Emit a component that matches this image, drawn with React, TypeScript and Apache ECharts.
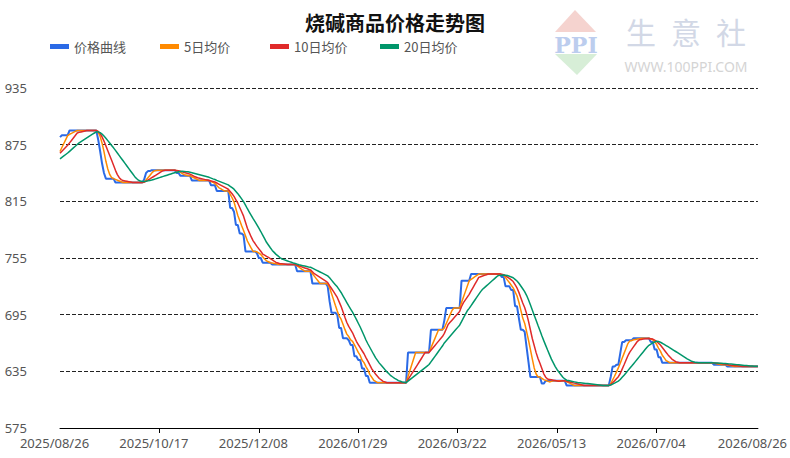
import React, { useEffect, useRef } from "react";
import * as echarts from "echarts";

// ---------- data ----------
const START_DATE = "2025-08-26";
const DAY_COUNT = 366;

// prices of the 19 days before the first shown day (needed for the moving averages)
const priorPrices = [854, 854, 854, 854, 854, 854, 854, 854, 854, 854, 864, 864, 864, 864, 864, 864, 864, 864, 864];

// price change points: [day index, price held from that day]
const priceSteps: [number, number][] = [
  [0, 883], [1, 885], [5, 890], [20, 880], [21, 868], [22, 855], [23, 845], [24, 839],
  [29, 835], [44, 838], [45, 845], [46, 847], [48, 848], [61, 845], [63, 842], [69, 837],
  [79, 832], [82, 826], [89, 808], [91, 804], [92, 790], [94, 781], [96, 779], [97, 762],
  [103, 760], [104, 755], [106, 750], [111, 748], [124, 741], [132, 728], [140, 725],
  [141, 709], [142, 697], [145, 695], [146, 681], [148, 670], [151, 668], [152, 663],
  [154, 651], [156, 647], [158, 638], [160, 630], [162, 623], [182, 655], [194, 679],
  [201, 689], [202, 702], [210, 731], [215, 738], [231, 735], [233, 725], [236, 721],
  [238, 704], [240, 691], [241, 679], [243, 677], [244, 661], [245, 645], [246, 629],
  [252, 622], [254, 625], [265, 620], [288, 629], [289, 640], [291, 642], [293, 654],
  [294, 666], [296, 668], [300, 670], [309, 666], [311, 658], [313, 650], [315, 644],
  [342, 642], [349, 640],
];

const seriesNames = ["价格曲线", "5日均价", "10日均价", "20日均价"];
const maWindows = [5, 10, 20];
const seriesColors = ["#2b6ae6", "#ff8a00", "#e02a2a", "#00966a"];
const legendLeft = [50, 160, 270, 380];

const Y_MIN = 575;
const Y_MAX = 935;
const Y_STEP = 60;
const LABEL_EVERY = 52;

// ---------- helpers ----------
function buildDates(): string[] {
  const out: string[] = [];
  const [y, m, d] = START_DATE.split("-").map(Number);
  const base = Date.UTC(y, m - 1, d);
  for (let i = 0; i < DAY_COUNT; i++) {
    const t = new Date(base + i * 86400000);
    const mm = String(t.getUTCMonth() + 1).padStart(2, "0");
    const dd = String(t.getUTCDate()).padStart(2, "0");
    out.push(`${t.getUTCFullYear()}/${mm}/${dd}`);
  }
  return out;
}

function buildPrices(): number[] {
  const out: number[] = [];
  let k = 0;
  for (let i = 0; i < DAY_COUNT; i++) {
    while (k + 1 < priceSteps.length && priceSteps[k + 1][0] <= i) k++;
    out.push(priceSteps[k][1]);
  }
  return out;
}

function movingAverage(prices: number[], n: number): number[] {
  const full = priorPrices.concat(prices);
  const off = priorPrices.length;
  const out: number[] = [];
  for (let i = 0; i < prices.length; i++) {
    let s = 0;
    for (let j = 0; j < n; j++) s += full[off + i - j];
    out.push(Math.round((s / n) * 100) / 100);
  }
  return out;
}

export default function App() {
  const ref = useRef<HTMLDivElement>(null);

  useEffect(() => {
    document.body.style.margin = "0";
    if (!ref.current) return;
    const chart = echarts.init(ref.current, undefined, { renderer: "svg" });
    const dates = buildDates();
    const prices = buildPrices();
    const allSeries = [prices, ...maWindows.map((n) => movingAverage(prices, n))];
    const lastIdx = DAY_COUNT - 1;
    const isLabelled = (i: number) => (i % LABEL_EVERY === 0 && lastIdx - i > 1) || i === lastIdx;
    const isTicked = (i: number) => i > 0 && i % LABEL_EVERY === 0 && lastIdx - i > 1;

    const option: any = {
      animation: false,
      backgroundColor: "#ffffff",
      title: {
        text: "烧碱商品价格走势图",
        left: "center",
        top: 7,
        textStyle: {
          fontSize: 20,
          fontWeight: "bold",
          color: "#111",
          fontFamily: "Noto Sans CJK SC",
        },
      },
      legend: seriesNames.map((name, i) => ({
        data: [name],
        left: legendLeft[i],
        top: 40,
        padding: 0,
        itemWidth: 19,
        itemHeight: 5,
        icon: "rect",
        textStyle: { color: "#555", fontSize: 13, fontFamily: "Noto Sans CJK SC" },
      })),
      grid: { left: 60, right: 30, top: 88, bottom: 30 },
      xAxis: {
        type: "category",
        boundaryGap: false,
        data: dates,
        axisLine: { lineStyle: { color: "#000", width: 1 } },
        axisTick: {
          show: true,
          length: 5,
          lineStyle: { color: "#000" },
          interval: isTicked,
        },
        axisLabel: {
          interval: isLabelled,
          color: "#555",
          fontSize: 13,
          margin: 8,
          padding: [0, 11, 0, 0],
          fontFamily: "Noto Sans",
        },
        splitLine: { show: false },
      },
      yAxis: {
        type: "value",
        min: Y_MIN,
        max: Y_MAX,
        interval: Y_STEP,
        axisLine: { show: false },
        axisTick: { show: false },
        axisLabel: {
          color: "#555",
          fontSize: 13,
          margin: 33,
          fontFamily: "Noto Sans",
        },
        splitLine: {
          show: true,
          lineStyle: { color: "#222", type: [4, 2], width: 1 },
        },
      },
      series: allSeries.map((data, i) => ({
        name: seriesNames[i],
        type: "line",
        data,
        showSymbol: false,
        symbol: "none",
        smooth: false,
        color: seriesColors[i],
        lineStyle: { color: seriesColors[i], width: i === 0 ? 2 : 1.5 },
      })),
      graphic: [
        {
          type: "polygon",
          shape: { points: [[575, 10], [555, 32], [596, 32]] },
          style: { fill: "#f5d3cf" },
        },
        {
          type: "text",
          x: 576,
          y: 45,
          style: {
            text: "PPI",
            fill: "#bccdee",
            fontSize: 22,
            fontWeight: "bold",
            fontFamily: "DejaVu Serif",
            align: "center",
            verticalAlign: "middle",
          },
        },
        {
          type: "polygon",
          shape: { points: [[555, 54], [597, 54], [577, 75]] },
          style: { fill: "#d7eed7" },
        },
        ...["生", "意", "社"].map((ch, i) => ({
          type: "text",
          x: 641 + i * 45,
          y: 31,
          style: {
            text: ch,
            fill: "#d2d8e6",
            fontSize: 30,
            fontFamily: "Noto Sans CJK SC",
            align: "center",
            verticalAlign: "middle",
          },
        })),
        {
          type: "text",
          x: 686,
          y: 66,
          style: {
            text: "WWW.100PPI.COM",
            fill: "#d4d4d4",
            fontSize: 14,
            fontFamily: "Noto Sans",
            align: "center",
            verticalAlign: "middle",
          },
        },
      ],
    };

    chart.setOption(option);
    return () => chart.dispose();
  }, []);

  return <div ref={ref} style={{ width: 790, height: 458 }} />;
}
